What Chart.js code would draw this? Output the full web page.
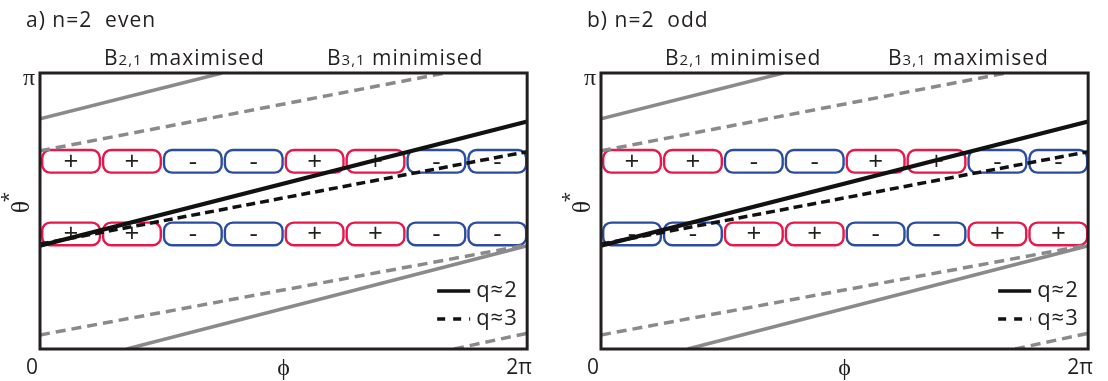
<!DOCTYPE html>
<html>
<head>
<meta charset="utf-8">
<script src="https://cdn.jsdelivr.net/npm/chart.js@4.4.1/dist/chart.umd.min.js"></script>
<style>
  html, body { margin: 0; padding: 0; background: #fff; }
  #wrap { position: relative; width: 1108px; height: 381px; overflow: hidden; }
  .panel { position: absolute; top: 0; width: 546px; height: 381px; }
</style>
</head>
<body>
<div id="wrap">
  <div class="panel" style="left:0"><canvas id="panelA" width="546" height="381"></canvas></div>
  <div class="panel" style="left:561px"><canvas id="panelB" width="546" height="381"></canvas></div>
</div>
<script>
// Both axes are in multiples of pi: phi runs 0..2, theta* runs 0..1.
const PHI_TICKS = [0, 2];
const PHI_TICK_LABELS = ['0', '2π'];
const THETA_TICKS = [1];
const THETA_TICK_LABELS = ['π'];

// Field-line traces (phi, theta*) for the two resonant surfaces and their wrapped copies.
const Q2_MAIN = [{ x: 0, y: 0.374 }, { x: 2, y: 0.824 }];
const Q2_WRAP_UP = [{ x: 0, y: 0.834 }, { x: 0.748, y: 1 }];
const Q2_WRAP_DOWN = [{ x: 0.356, y: 0 }, { x: 2, y: 0.374 }];
const Q3_MAIN = [{ x: 0, y: 0.38 }, { x: 2, y: 0.715 }];
const Q3_WRAP_UP = [{ x: 0, y: 0.718 }, { x: 1.664, y: 1 }];
const Q3_WRAP_DOWN = [{ x: 0, y: 0.051 }, { x: 2, y: 0.377 }];
const Q3_WRAP_DOWN2 = [{ x: 1.70, y: 0 }, { x: 2, y: 0.057 }];

// Sign cells: 8 equal phi sectors on two theta* bands.
const CELL_EDGES = [0, 0.25, 0.5, 0.75, 1, 1.25, 1.5, 1.75, 2];
const UPPER_BAND = [0.639, 0.721];
const LOWER_BAND = [0.376, 0.458];
const EVEN_UPPER = ['+', '+', '-', '-', '+', '+', '-', '-'];
const EVEN_LOWER = ['+', '+', '-', '-', '+', '+', '-', '-'];
const ODD_UPPER = ['+', '+', '-', '-', '+', '+', '-', '-'];
const ODD_LOWER = ['-', '-', '+', '+', '-', '-', '+', '+'];

const LEGEND_LABELS = ['q≈2', 'q≈3'];

const SANS = "'Open Sans', 'Noto Sans', sans-serif";
const SERIF = "'Liberation Serif', 'DejaVu Serif', serif";
const INK = '#231f20';
const RED = '#e6174b';
const BLUE = '#2b4c9f';
const GRAY = '#8a8a8a';

function trace(data, color, width, dash, label) {
  return {
    label: label || '',
    data: data,
    borderColor: color,
    borderWidth: width,
    borderDash: dash || [],
    borderCapStyle: 'butt',
    pointRadius: 0,
    pointHoverRadius: 0,
    tension: 0,
    fill: false,
    clip: 0
  };
}

function roundedBox(ctx, l, t, r, b, rad) {
  ctx.beginPath();
  ctx.moveTo(l + rad, t);
  ctx.lineTo(r - rad, t);
  ctx.arcTo(r, t, r, t + rad, rad);
  ctx.lineTo(r, b - rad);
  ctx.arcTo(r, b, r - rad, b, rad);
  ctx.lineTo(l + rad, b);
  ctx.arcTo(l, b, l, b - rad, rad);
  ctx.lineTo(l, t + rad);
  ctx.arcTo(l, t, l + rad, t, rad);
  ctx.closePath();
}

function drawBand(ctx, xs, ys, band, signs) {
  const top = ys.getPixelForValue(band[1]);
  const bot = ys.getPixelForValue(band[0]);
  signs.forEach((s, i) => {
    const l = xs.getPixelForValue(CELL_EDGES[i]) + 2.2;
    const r = xs.getPixelForValue(CELL_EDGES[i + 1]) - 1;
    ctx.save();
    ctx.lineWidth = 2.4;
    ctx.strokeStyle = s === '+' ? RED : BLUE;
    roundedBox(ctx, l, top, r, bot, 8);
    ctx.stroke();
    ctx.fillStyle = INK;
    ctx.font = '26px ' + SANS;
    ctx.textAlign = 'center';
    ctx.textBaseline = 'middle';
    ctx.fillText(s, (l + r) / 2, (top + bot) / 2 + 1);
    ctx.restore();
  });
}

// Label like "B2,1 maximised" with the indices set smaller on the baseline.
function drawBLabel(ctx, x, y, parts) {
  ctx.save();
  ctx.fillStyle = INK;
  ctx.textBaseline = 'alphabetic';
  ctx.textAlign = 'left';
  ctx.letterSpacing = '1px';
  ctx.font = '21px ' + SANS;
  ctx.fillText(parts[0], x, y);
  x += ctx.measureText(parts[0]).width;
  ctx.font = '15px ' + SANS;
  ctx.fillText(parts[1], x, y);
  x += ctx.measureText(parts[1]).width;
  ctx.font = '21px ' + SANS;
  ctx.fillText(parts[2], x, y);
  ctx.restore();
}

const decor = {
  id: 'decor',
  beforeDatasetsDraw(chart, args, opts) {
    const { ctx, scales } = chart;
    drawBand(ctx, scales.x, scales.y, UPPER_BAND, opts.upper);
    drawBand(ctx, scales.x, scales.y, LOWER_BAND, opts.lower);
  },
  afterDatasetsDraw(chart, args, opts) {
    const { ctx, chartArea: a } = chart;
    ctx.save();
    // frame
    ctx.strokeStyle = INK;
    ctx.lineWidth = 3;
    ctx.strokeRect(a.left, a.top, a.right - a.left, a.bottom - a.top);

    // panel title
    ctx.fillStyle = INK;
    ctx.letterSpacing = '1px';
    ctx.font = '21px ' + SANS;
    ctx.textAlign = 'left';
    ctx.textBaseline = 'alphabetic';
    ctx.fillText(opts.title, a.left - 14, 27);
    ctx.restore();

    drawBLabel(ctx, a.left + 64, 65, opts.left);
    drawBLabel(ctx, a.left + 287, 65, opts.right);

    // rotated theta* axis title
    ctx.save();
    ctx.fillStyle = INK;
    ctx.translate(a.left - 18, 207);
    ctx.rotate(-Math.PI / 2);
    ctx.textAlign = 'center';
    ctx.textBaseline = 'middle';
    ctx.font = '26px ' + SERIF;
    ctx.fillText('θ', 0, 0);
    ctx.font = '19px ' + SANS;
    ctx.fillText('*', 10, -12);
    ctx.restore();

    // legend for the two black traces, q≈2 first
    LEGEND_LABELS.forEach((lab, i) => {
      const d = chart.data.datasets.find(ds => ds.label === lab);
      const y = 291 + i * 28;
      ctx.save();
      ctx.strokeStyle = d.borderColor;
      ctx.lineWidth = 3.5;
      ctx.setLineDash(d.borderDash.length ? [8, 8] : []);
      ctx.beginPath();
      ctx.moveTo(a.right - 90, y);
      ctx.lineTo(a.right - 57, y);
      ctx.stroke();
      ctx.setLineDash([]);
      ctx.fillStyle = INK;
      ctx.letterSpacing = '1px';
      ctx.font = '22px ' + SANS;
      ctx.textAlign = 'left';
      ctx.textBaseline = 'alphabetic';
      ctx.fillText(d.label, a.right - 51, y + 6);
      ctx.restore();
    });
  }
};

function makePanel(id, title, left, right, upper, lower) {
  return new Chart(document.getElementById(id), {
    type: 'line',
    data: {
      datasets: [
        trace(Q2_WRAP_UP, GRAY, 3.5),
        trace(Q2_WRAP_DOWN, GRAY, 3.5),
        trace(Q3_WRAP_UP, GRAY, 3.5, [10, 6]),
        trace(Q3_WRAP_DOWN, GRAY, 3.5, [10, 6]),
        trace(Q3_WRAP_DOWN2, GRAY, 3.5, [10, 6]),
        trace(Q3_MAIN, '#111', 3.5, [9, 5], LEGEND_LABELS[1]),
        trace(Q2_MAIN, '#111', 4.2, [], LEGEND_LABELS[0])
      ]
    },
    options: {
      responsive: false,
      animation: false,
      devicePixelRatio: 1,
      layout: { autoPadding: false, padding: { top: 73, right: 7, left: 0, bottom: 0 } },
      plugins: {
        legend: { display: false },
        tooltip: { enabled: false },
        decor: { title, left, right, upper, lower }
      },
      scales: {
        x: {
          type: 'linear',
          min: 0,
          max: 2,
          afterBuildTicks: s => { s.ticks = PHI_TICKS.map(v => ({ value: v })); },
          afterFit: s => { s.height = 32; },
          grid: { display: false, drawTicks: false },
          border: { display: false },
          ticks: {
            autoSkip: false,
            maxRotation: 0,
            padding: 6,
            labelOffset: -8,
            color: INK,
            font: { family: SANS, size: 21 },
            callback: v => PHI_TICK_LABELS[PHI_TICKS.indexOf(v)]
          },
          title: {
            display: true,
            text: 'ϕ',
            color: INK,
            padding: { top: 0, bottom: 0 },
            font: { family: SERIF, size: 24, lineHeight: 1 }
          }
        },
        y: {
          type: 'linear',
          min: 0,
          max: 1,
          afterBuildTicks: s => { s.ticks = THETA_TICKS.map(v => ({ value: v })); },
          afterFit: s => { s.width = 40; },
          grid: { display: false, drawTicks: false },
          border: { display: false },
          ticks: {
            autoSkip: false,
            padding: 5,
            labelOffset: 6,
            color: INK,
            font: { family: SERIF, size: 24 },
            callback: v => THETA_TICK_LABELS[THETA_TICKS.indexOf(v)]
          }
        }
      }
    },
    plugins: [decor]
  });
}

makePanel('panelA', 'a) n=2  even',
  ['B', '2,1', ' maximised'], ['B', '3,1', ' minimised'], EVEN_UPPER, EVEN_LOWER);
makePanel('panelB', 'b) n=2  odd',
  ['B', '2,1', ' minimised'], ['B', '3,1', ' maximised'], ODD_UPPER, ODD_LOWER);
</script>
</body>
</html>
